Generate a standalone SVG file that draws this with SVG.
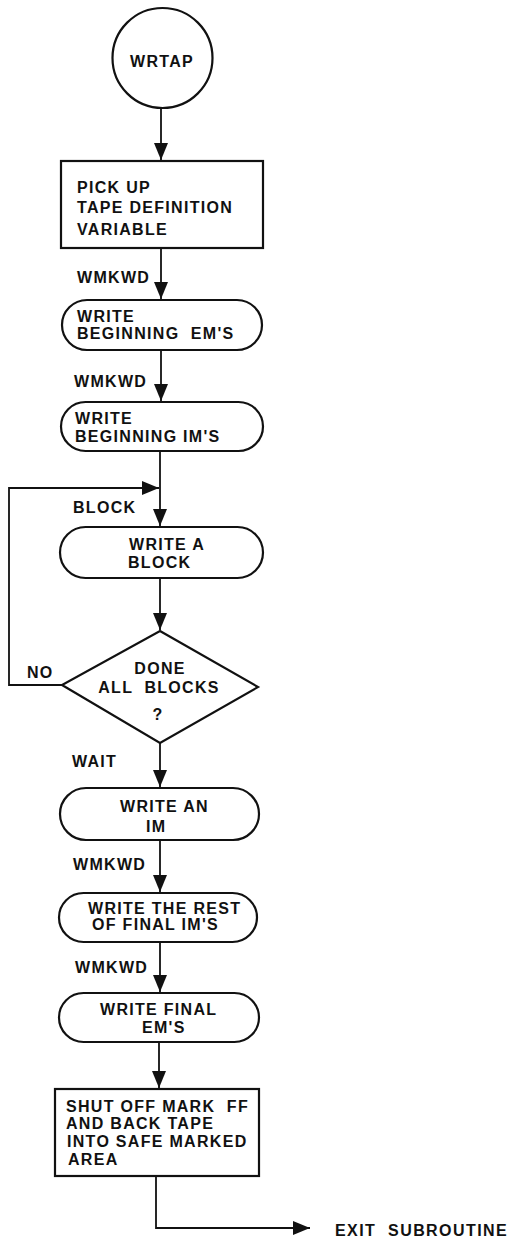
<svg xmlns="http://www.w3.org/2000/svg" width="514" height="1247" viewBox="0 0 514 1247">
<style>
.shape{fill:#fff;stroke:#111;stroke-width:2.2}
.conn{fill:none;stroke:#111;stroke-width:1.8}
text{font-family:"Liberation Sans",Arial,sans-serif;font-weight:bold;font-size:16px;fill:#111;letter-spacing:1.3px;white-space:pre}
.c{text-anchor:middle}
</style>
<defs>
<marker id="ah" markerUnits="userSpaceOnUse" markerWidth="18" markerHeight="15" refX="17" refY="7" orient="auto">
<path d="M0,0 L17,7 L0,14 Z" fill="#111"/>
</marker>
</defs>
<rect width="514" height="1247" fill="#fff"/>
<g id="connectors">
<path class="conn" d="M161,108 V160" marker-end="url(#ah)"/>
<path class="conn" d="M161,248 V299" marker-end="url(#ah)"/>
<path class="conn" d="M161,350 V401" marker-end="url(#ah)"/>
<path class="conn" d="M160,451 V526" marker-end="url(#ah)"/>
<path class="conn" d="M160,578 V630" marker-end="url(#ah)"/>
<path class="conn" d="M62,685 H9 V488 H159" marker-end="url(#ah)"/>
<path class="conn" d="M160,743 V787" marker-end="url(#ah)"/>
<path class="conn" d="M160,840 V892" marker-end="url(#ah)"/>
<path class="conn" d="M160,942 V992" marker-end="url(#ah)"/>
<path class="conn" d="M159,1042 V1088" marker-end="url(#ah)"/>
<path class="conn" d="M156,1176 V1228 H310" marker-end="url(#ah)"/>
<text x="77" y="283">WMKWD</text>
<text x="74" y="387">WMKWD</text>
<text x="73" y="513">BLOCK</text>
<text x="27" y="678">NO</text>
<text x="72" y="767">WAIT</text>
<text x="73" y="870">WMKWD</text>
<text x="75" y="973">WMKWD</text>
<text x="335" y="1236" textLength="173">EXIT  SUBROUTINE</text>
</g>
<g id="wrtap">
<circle class="shape" cx="162.5" cy="58" r="50"/>
<text class="c" x="162" y="67">WRTAP</text>
</g>
<g id="pickup">
<rect class="shape" x="61" y="161" width="202" height="87"/>
<text x="77" y="193">PICK UP</text>
<text x="77" y="213">TAPE DEFINITION</text>
<text x="77" y="235">VARIABLE</text>
</g>
<g id="begin-em">
<rect class="shape" x="62" y="300" width="200" height="50" rx="25"/>
<text x="77" y="322">WRITE</text>
<text x="77" y="339">BEGINNING  EM'S</text>
</g>
<g id="begin-im">
<rect class="shape" x="61" y="402" width="202" height="49" rx="24.5"/>
<text x="75" y="424">WRITE</text>
<text x="75" y="442">BEGINNING IM'S</text>
</g>
<g id="write-block">
<rect class="shape" x="60" y="527" width="203" height="51" rx="25.5"/>
<text x="129" y="550">WRITE A</text>
<text x="128" y="568">BLOCK</text>
</g>
<g id="done">
<polygon class="shape" points="160,631 258,687 160,743 62,685"/>
<text class="c" x="160" y="674">DONE</text>
<text class="c" x="159" y="693">ALL  BLOCKS</text>
<text class="c" x="158" y="720">?</text>
</g>
<g id="write-im">
<rect class="shape" x="60" y="788" width="199" height="52" rx="26"/>
<text x="120" y="812">WRITE AN</text>
<text x="146" y="832">IM</text>
</g>
<g id="rest-im">
<rect class="shape" x="59" y="893" width="198" height="49" rx="24.5"/>
<text x="88" y="914">WRITE THE REST</text>
<text x="92" y="930">OF FINAL IM'S</text>
</g>
<g id="final-em">
<rect class="shape" x="59" y="993" width="200" height="49" rx="24.5"/>
<text x="100" y="1015">WRITE FINAL</text>
<text x="142" y="1033">EM'S</text>
</g>
<g id="shutoff">
<rect class="shape" x="55" y="1089" width="204" height="87"/>
<text x="66" y="1112">SHUT OFF MARK  FF</text>
<text x="66" y="1129">AND BACK TAPE</text>
<text x="67" y="1147">INTO SAFE MARKED</text>
<text x="68" y="1165">AREA</text>
</g>
</svg>
